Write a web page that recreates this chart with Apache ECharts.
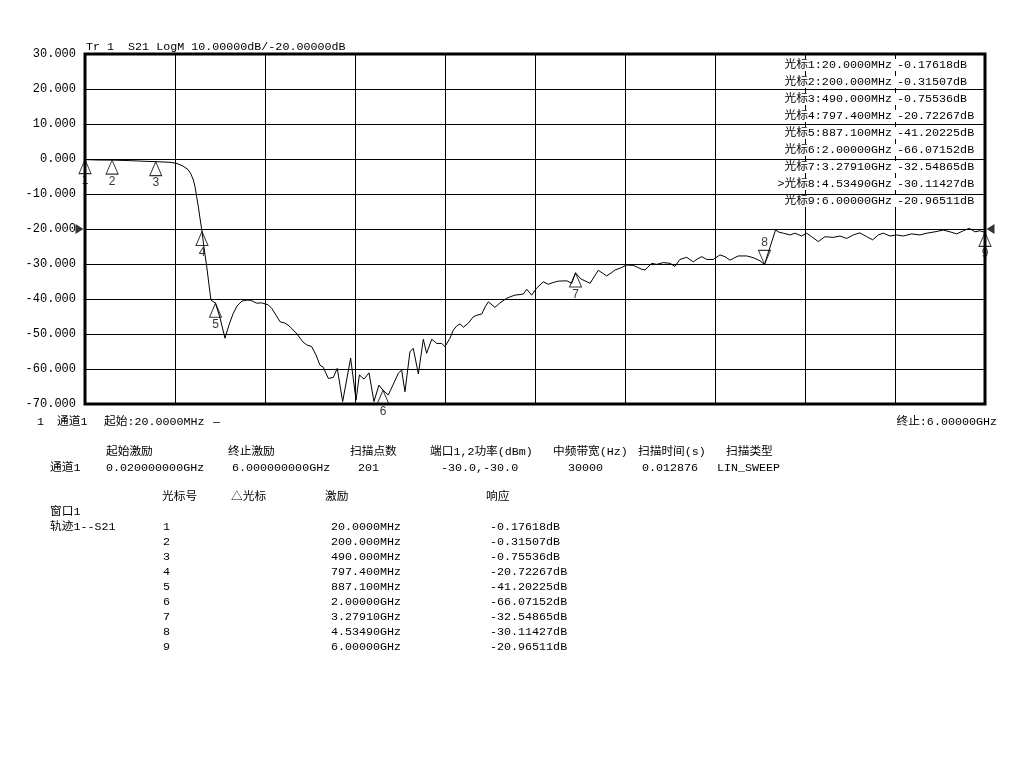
<!DOCTYPE html>
<html><head><meta charset="utf-8">
<script src="https://cdn.jsdelivr.net/npm/echarts@6/dist/echarts.min.js"></script>
<style>html,body{margin:0;padding:0;background:#fff}#c{width:1024px;height:768px}</style>
</head><body><div id="c"></div>
<script>
// ---------- data ----------
const freqGHz = [0.02,0.12,0.206,0.306,0.419,0.492,0.585,0.631,0.671,0.704,0.724,0.740,0.751,0.762,0.773,0.784,0.7974,0.811,0.829,0.844,0.857,0.8871,0.917,0.950,0.977,1.003,1.030,1.063,1.096,1.123,1.161,1.194,1.216,1.238,1.261,1.289,1.316,1.349,1.376,1.404,1.429,1.449,1.469,1.493,1.526,1.555,1.581,1.603,1.637,1.670,1.696,1.732,1.785,1.821,1.843,1.874,1.907,1.940,1.973,2.0,2.035,2.066,2.102,2.124,2.146,2.179,2.201,2.235,2.268,2.290,2.324,2.357,2.390,2.412,2.445,2.467,2.490,2.512,2.534,2.567,2.600,2.625,2.656,2.678,2.700,2.744,2.777,2.822,2.850,2.877,2.932,2.955,2.988,3.021,3.065,3.098,3.130,3.165,3.221,3.254,3.2791,3.316,3.376,3.402,3.431,3.458,3.486,3.515,3.542,3.575,3.619,3.663,3.694,3.719,3.741,3.785,3.818,3.862,3.907,3.940,3.973,4.018,4.062,4.087,4.118,4.151,4.195,4.239,4.272,4.306,4.332,4.361,4.416,4.445,4.472,4.505,4.5349,4.608,4.631,4.660,4.704,4.737,4.782,4.815,4.848,4.892,4.937,4.992,5.036,5.081,5.125,5.169,5.214,5.254,5.291,5.324,5.369,5.413,5.457,5.513,5.568,5.613,5.668,5.723,5.767,5.812,5.856,5.896,5.933,5.967,6.0];
const s21dB = [-0.18,-0.30,-0.32,-0.45,-0.66,-0.76,-0.94,-1.29,-2.0,-3.0,-4.3,-6.0,-7.9,-10.8,-13.6,-16.9,-20.72,-25.4,-30.8,-36.0,-40.3,-41.2,-45.4,-51.2,-47.4,-44.3,-42.0,-40.6,-40.3,-40.4,-41.2,-41.1,-41.4,-41.7,-42.7,-44.6,-46.5,-46.9,-47.7,-48.9,-50.0,-51.2,-52.3,-53.1,-53.6,-56.0,-58.9,-59.5,-62.7,-62.4,-59.8,-69.3,-56.9,-68.9,-61.7,-62.9,-61.1,-69.3,-64.6,-66.07,-67.4,-64.6,-61.2,-60.3,-66.5,-55.1,-54.1,-61.4,-51.5,-55.5,-51.5,-52.7,-52.7,-53.6,-51.2,-48.9,-47.7,-47.1,-48.1,-46.9,-45.1,-44.6,-44.3,-42.3,-40.8,-42.4,-41.1,-39.8,-39.3,-38.9,-38.6,-37.2,-38.9,-36.9,-35.1,-35.8,-35.3,-34.9,-34.8,-35.5,-32.55,-34.3,-35.5,-33.7,-31.8,-32.6,-33.4,-32.6,-31.7,-31.2,-30.3,-30.4,-31.0,-31.5,-31.7,-29.8,-30.1,-29.6,-29.8,-30.7,-28.7,-28.1,-29.4,-28.6,-27.9,-28.7,-28.7,-27.4,-27.9,-28.9,-28.3,-27.7,-27.7,-28.0,-28.4,-29.1,-30.11,-20.3,-20.9,-21.2,-21.7,-21.2,-22.0,-21.2,-22.2,-23.6,-22.2,-22.4,-22.0,-22.7,-21.7,-21.1,-22.2,-23.1,-21.7,-21.2,-22.0,-21.7,-22.0,-21.4,-21.7,-21.2,-20.8,-20.3,-20.8,-21.4,-20.5,-19.8,-20.8,-20.5,-20.97];

const markerNo = [1,2,3,4,5,6,7,8,9];
const markerFreqGHz = [0.02,0.2,0.49,0.7974,0.8871,2.0,3.2791,4.5349,6.0];
const markerStim = ['20.0000MHz','200.000MHz','490.000MHz','797.400MHz','887.100MHz','2.00000GHz','3.27910GHz','4.53490GHz','6.00000GHz'];
const markerResp = [-0.17618,-0.31507,-0.75536,-20.72267,-41.20225,-66.07152,-32.54865,-30.11427,-20.96511];
const activeMarker = 8;

const startGHz = 0.02, stopGHz = 6.0;
const yMin = -70, yMax = 30, yStep = 10, refLevel = -20, divisions = 10;

const titleText = 'Tr 1  S21 LogM 10.00000dB/-20.00000dB';
const startText = ['1', '通道1', '起始:20.0000MHz', '—'];
const stopText = '终止:6.00000GHz';
const infoHeaders = ['起始激励','终止激励','扫描点数','端口1,2功率(dBm)','中频带宽(Hz)','扫描时间(s)','扫描类型'];
const infoValues = ['0.020000000GHz','6.000000000GHz','201','-30.0,-30.0','30000','0.012876','LIN_SWEEP'];
const channelName = '通道1';
const tableHeaders = ['光标号','△光标','激励','响应'];
const windowName = '窗口1';
const traceName = '轨迹1--S21';

// ---------- layout ----------
const FONT = "11.7px 'Liberation Mono','Noto Sans CJK SC',monospace";
const G = {left:85, top:54, width:900, height:350};
const infoHeaderX = [106,228,350,430,553,638,726];
const infoValueX = [106,232,358,441,568,642,717];
const tableHeaderX = [162,231,325,486];

function txt(text, x, y, align) {
  return {type:'text', z:100, style:{text:text, x:x, y:y, font:FONT, fill:'#000', align:align||'left', verticalAlign:'middle'}};
}

const graphics = [];
graphics.push(txt(titleText, 86, 47));
// marker readout box
markerNo.forEach((n,i)=>{
  const y = 65 + 17*i;
  graphics.push({type:'rect', z:99, shape:{x:766, y:y-6, width:217, height:12}, style:{fill:'#fff'}});
  graphics.push(txt((n===activeMarker?'>':'')+'光标'+n+':'+markerStim[i], 892, y, 'right'));
  graphics.push(txt(markerResp[i].toFixed(5)+'dB', 897, y));
});
// start / stop line
[37,57,104,213].forEach((x,i)=>graphics.push(txt(startText[i], x, 422)));
graphics.push(txt(stopText, 997, 422, 'right'));
// channel info
infoHeaders.forEach((h,i)=>graphics.push(txt(h, infoHeaderX[i], 452)));
graphics.push(txt(channelName, 50, 468));
infoValues.forEach((v,i)=>graphics.push(txt(v, infoValueX[i], 468)));
// marker table
tableHeaders.forEach((h,i)=>graphics.push(txt(h, tableHeaderX[i], 497)));
graphics.push(txt(windowName, 50, 512));
graphics.push(txt(traceName, 50, 527));
markerNo.forEach((n,i)=>{
  const y = 527 + 15*i;
  graphics.push(txt(String(n), 163, y));
  graphics.push(txt(markerStim[i], 331, y));
  graphics.push(txt(markerResp[i].toFixed(5)+'dB', 490, y));
});

const UP = 'path://M6,0L12,14L0,14Z';
const DOWN = 'path://M0,0L12,0L6,14Z';
const markerData = markerNo.map((n,i)=>{
  const active = n===activeMarker;
  return {
    value:[markerFreqGHz[i], markerResp[i]],
    symbol: active?DOWN:UP,
    symbolOffset: active?[0,-7]:[0,7],
    label:{show:true, position: active?'top':'bottom', distance:1, formatter:String(n)}
  };
});

const chart = echarts.init(document.getElementById('c'), null, {renderer:'canvas'});
chart.setOption({
  animation:false,
  backgroundColor:'#fff',
  grid:{left:G.left, top:G.top, width:G.width, height:G.height, show:true, borderColor:'#000', borderWidth:3, backgroundColor:'transparent'},
  xAxis:[
    {type:'value', min:startGHz, max:stopGHz, show:false},
    {type:'value', min:0, max:divisions, interval:1, position:'bottom',
     axisLine:{show:false}, axisTick:{show:false}, axisLabel:{show:false},
     splitLine:{show:true, lineStyle:{color:'#000', width:1}}}
  ],
  yAxis:{type:'value', min:yMin, max:yMax, interval:yStep,
    axisLine:{show:false}, axisTick:{show:false},
    axisLabel:{color:'#000', fontSize:12, fontFamily:"'Liberation Mono',monospace", margin:9, formatter:v=>v.toFixed(3)},
    splitLine:{show:true, lineStyle:{color:'#000', width:1}}},
  series:[
    {type:'line', xAxisIndex:0, data:freqGHz.map((f,i)=>[f, s21dB[i]]), showSymbol:false, symbol:'none',
     lineStyle:{color:'#000', width:1}, z:3, clip:false},
    {type:'scatter', xAxisIndex:0, data:markerData, symbolSize:[12,14], clip:false, z:4,
     itemStyle:{color:'rgba(0,0,0,0)', borderColor:'#000', borderWidth:1},
     label:{color:'#000', fontSize:12, fontFamily:"'Liberation Sans',sans-serif"}},
    {type:'scatter', xAxisIndex:0, clip:false, z:4, symbolSize:[8,10],
     itemStyle:{color:'#000'},
     data:[
       {value:[startGHz, refLevel], symbol:'path://M0,0L8,5L0,10Z', symbolOffset:[-5.5,0]},
       {value:[stopGHz, refLevel], symbol:'path://M8,0L0,5L8,10Z', symbolOffset:[5.5,0]}
     ]}
  ],
  graphic:graphics
});
</script></body></html>
